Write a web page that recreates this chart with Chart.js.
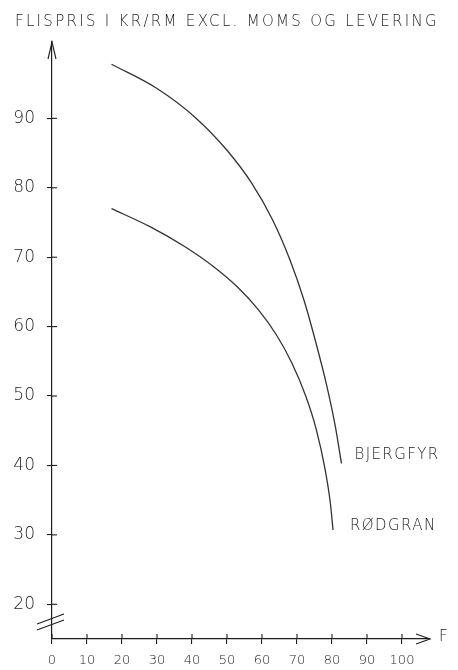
<!DOCTYPE html>
<html>
<head>
<meta charset="utf-8">
<script src="https://cdn.jsdelivr.net/npm/chart.js@4.4.1/dist/chart.umd.min.js"></script>
<style>
  html, body { margin: 0; padding: 0; background: #fff; }
  #wrap { width: 458px; height: 670px; position: relative; }
</style>
</head>
<body>
<div id="wrap"><canvas id="chart"></canvas></div>
<script>
// titel og serier
const chartTitle = 'FLISPRIS I KR/RM EXCL. MOMS OG LEVERING';
const xAxisName = 'F';
const seriesNames = ['BJERGFYR', 'RØDGRAN'];

// aflæst fra tegningen
const bjergfyrX = [17, 30, 41, 50, 57, 63, 68, 72, 75.5, 78.5, 81, 82.7];
const bjergfyrY = [97.8, 94.3, 90.1, 85.4, 80.7, 75.4, 69.6, 63.8, 57.5, 51.5, 45.5, 40.3];
const roedgranX = [17, 28, 38, 46, 53, 59, 64, 68.5, 72.5, 75.5, 78, 79.5, 80.3];
const roedgranY = [77.0, 74.4, 71.5, 68.7, 65.7, 62.4, 58.9, 54.8, 50.0, 45.2, 39.5, 34.7, 30.7];

const xTicks = [0, 10, 20, 30, 40, 50, 60, 70, 80, 90, 100];
const yTicks = [20, 30, 40, 50, 60, 70, 80, 90];

const ink = '#1e1e1e';
const fontFam = "'DejaVu Sans', 'Liberation Sans', sans-serif";

function toPoints(xs, ys) {
  return xs.map((x, i) => ({ x: x, y: ys[i] }));
}

// tegner pile, krydsende tick-streger, brud og tekster
const sketchPlugin = {
  id: 'sketch',
  afterDraw: function(chart) {
    const ctx = chart.ctx;
    const xs = chart.scales.x, ys = chart.scales.y;
    const area = chart.chartArea;
    ctx.save();
    ctx.strokeStyle = ink;
    ctx.fillStyle = ink;
    ctx.lineWidth = 1.1;

    // inderste halvdel af tick-kryds
    xTicks.forEach(v => {
      const px = xs.getPixelForValue(v);
      ctx.beginPath(); ctx.moveTo(px, area.bottom); ctx.lineTo(px, area.bottom - 5); ctx.stroke();
    });
    yTicks.forEach(v => {
      const py = ys.getPixelForValue(v);
      ctx.beginPath(); ctx.moveTo(area.left, py); ctx.lineTo(area.left + 5, py); ctx.stroke();
    });

    // pil på y-aksen
    ctx.beginPath();
    ctx.moveTo(area.left - 4, area.top + 17);
    ctx.lineTo(area.left, area.top);
    ctx.lineTo(area.left + 4, area.top + 17);
    ctx.stroke();

    // pil på x-aksen
    ctx.beginPath();
    ctx.moveTo(area.right - 14, area.bottom - 5);
    ctx.lineTo(area.right, area.bottom);
    ctx.lineTo(area.right - 14, area.bottom + 5);
    ctx.stroke();

    // brud på y-aksen
    const yb = ys.getPixelForValue(17.6);
    ctx.beginPath();
    ctx.moveTo(area.left - 15, yb + 3); ctx.lineTo(area.left + 12, yb - 7);
    ctx.moveTo(area.left - 15, yb + 9); ctx.lineTo(area.left + 12, yb - 1);
    ctx.stroke();

    // aksenavn
    ctx.font = '300 15px ' + fontFam;
    ctx.textBaseline = 'middle';
    ctx.textAlign = 'left';
    ctx.fillText(xAxisName, area.right + 9, area.bottom - 2);

    // titel
    ctx.font = '300 15px ' + fontFam;
    ctx.letterSpacing = '2.3px';
    ctx.fillText(chartTitle, 15, 22);

    // serienavne ved kurvernes ende
    ctx.font = '300 15px ' + fontFam;
    ctx.letterSpacing = '1.4px';
    const offs = [[13, -8], [17, -4]];
    chart.data.datasets.forEach((ds, i) => {
      const meta = chart.getDatasetMeta(i);
      const last = meta.data[meta.data.length - 1];
      ctx.fillText(seriesNames[i], last.x + offs[i][0], last.y + offs[i][1]);
    });
    ctx.restore();
  }
};

new Chart(document.getElementById('chart'), {
  type: 'line',
  data: {
    datasets: [
      { label: seriesNames[0], data: toPoints(bjergfyrX, bjergfyrY) },
      { label: seriesNames[1], data: toPoints(roedgranX, roedgranY) }
    ].map(ds => Object.assign(ds, {
      borderColor: '#333',
      borderWidth: 1.3,
      pointRadius: 0,
      fill: false,
      cubicInterpolationMode: 'monotone'
    }))
  },
  options: {
    responsive: true,
    maintainAspectRatio: false,
    animation: false,
    layout: { padding: { top: 42, right: 28, left: 0, bottom: 0 } },
    plugins: { legend: { display: false }, tooltip: { enabled: false }, title: { display: false } },
    scales: {
      x: {
        type: 'linear',
        min: 0,
        max: 108,
        afterBuildTicks: s => { s.ticks = xTicks.map(v => ({ value: v })); },
        afterFit: s => { s.height = 31; },
        grid: { drawOnChartArea: false, tickLength: 5, color: ink, lineWidth: 1.1 },
        border: { color: ink, width: 1.2 },
        ticks: { color: ink, padding: 9, maxRotation: 0, font: { family: fontFam, size: 13, weight: '300' } }
      },
      y: {
        type: 'linear',
        min: 15,
        max: 101,
        afterBuildTicks: s => { s.ticks = yTicks.map(v => ({ value: v })); },
        afterFit: s => { s.width = 52; },
        grid: { drawOnChartArea: false, tickLength: 5, color: ink, lineWidth: 1.1 },
        border: { color: ink, width: 1.2 },
        ticks: { color: ink, padding: 12, font: { family: fontFam, size: 17, weight: '300' } }
      }
    }
  },
  plugins: [sketchPlugin]
});
</script>
</body>
</html>
